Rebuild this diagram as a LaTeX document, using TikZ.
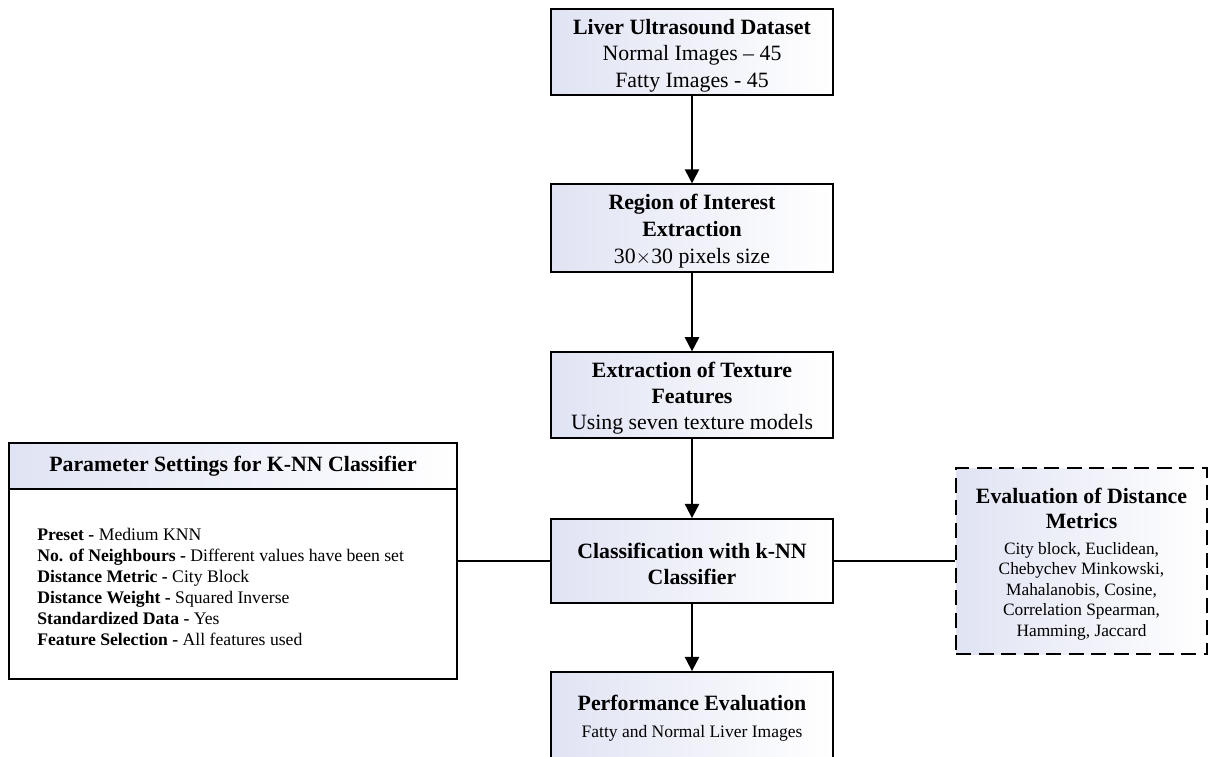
\documentclass[tikz,border=0pt]{standalone}
\usepackage{fontspec}
\setmainfont{Liberation Serif}
\usetikzlibrary{arrows.meta}

\definecolor{boxtint}{RGB}{224,227,243}

% font sizes used in the flow chart
\newcommand\headfont{\fontsize{13.1}{15.9}\selectfont}
\newcommand\notefont{\fontsize{10.5}{12.6}\selectfont}
% invisible prop that lowers the text block a little inside its box
\newcommand\topprop[1]{\rule{0pt}{#1}}

\tikzset{
  shadedbox/.style={draw=black, line width=1.1pt, left color=boxtint, right color=white},
  flowbox/.style={shadedbox, minimum width=169.2pt, minimum height=50.4pt,
    align=center, inner sep=2pt, font=\headfont},
  flowarrow/.style={line width=1.2pt, -{Triangle[length=8.5pt,width=8.5pt]}},
  link/.style={line width=1.2pt},
  dashedbox/.style={shadedbox, dash pattern=on 9pt off 4.5pt}
}

\begin{document}
\begin{tikzpicture}[x=0.6pt,y=-0.6pt]
\useasboundingbox (0,0) rectangle (1211,756);

% main processing chain
\node[flowbox] (dataset) at (692,52)
  {\topprop{13.4pt}\textbf{Liver Ultrasound Dataset}\\ Normal Images -- 45\\ Fatty Images - 45};
\node[flowbox, font=\fontsize{13.1}{16.2}\selectfont] (roi) at (692,228)
  {\topprop{13.2pt}\textbf{Region of Interest}\\ \textbf{Extraction}\\ 30$\times$30 pixels size};
\node[flowbox, font=\fontsize{13.1}{15.6}\selectfont] (texture) at (692,395)
  {\topprop{13.2pt}\textbf{Extraction of Texture}\\ \textbf{Features}\\ Using seven texture models};
\node[flowbox, font=\fontsize{13.1}{15.6}\selectfont] (classify) at (692,561)
  {\topprop{12.8pt}\textbf{Classification with k-NN}\\ \textbf{Classifier}};
\node[flowbox, minimum height=51.6pt, font=\fontsize{13.1}{16.2}\selectfont] (perf) at (692,715)
  {\topprop{13.2pt}\textbf{Performance Evaluation}\\ {\notefont Fatty and Normal Liver Images}};

\draw[flowarrow] (dataset.south) -- (roi.north);
\draw[flowarrow] (roi.south) -- (texture.north);
\draw[flowarrow] (texture.south) -- (classify.north);
\draw[flowarrow] (classify.south) -- (perf.north);

% parameter settings panel
\node[draw=black, line width=1.1pt, fill=white, minimum width=268.8pt, minimum height=141.6pt,
  inner sep=0pt] (param) at (233,561) {};
\node[shadedbox, minimum width=268.8pt, minimum height=27.6pt, inner sep=0pt, font=\headfont]
  (paramhead) at (233,466) {\textbf{Parameter Settings for K-NN Classifier}};
\node[anchor=north west, inner sep=0pt, align=left, font=\fontsize{10.6}{12.6}\selectfont]
  (paramlist) at (37,528)
  {\textbf{Preset -} Medium KNN\\
   \textbf{No. of Neighbours -} Different values have been set\\
   \textbf{Distance Metric -} City Block\\
   \textbf{Distance Weight -} Squared Inverse\\
   \textbf{Standardized Data -} Yes\\
   \textbf{Feature Selection -} All features used};

% distance metrics panel
\node[dashedbox, minimum width=150.6pt, minimum height=111.6pt, align=center, inner sep=2pt,
  font=\fontsize{10.4}{12.3}\selectfont] (metrics) at (1081.5,561)
  {{\headfont\topprop{12.6pt}\textbf{Evaluation of Distance}}\\[2.7pt]
   {\headfont\textbf{Metrics}}\\[3.3pt]
   City block, Euclidean,\\
   Chebychev Minkowski,\\
   Mahalanobis, Cosine,\\
   Correlation Spearman,\\
   Hamming, Jaccard};

\draw[link] (param.east) -- (classify.west);
\draw[link] (classify.east) -- (metrics.west);
\end{tikzpicture}
\end{document}
